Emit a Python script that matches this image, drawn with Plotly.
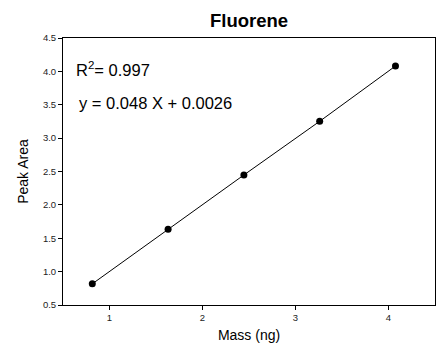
import plotly.graph_objects as go

# Calibration data for fluorene
mass_ng = [0.815, 1.63, 2.445, 3.26, 4.075]
peak_area = [0.817, 1.635, 2.448, 3.252, 4.08]

x_ticks = [1, 2, 3, 4]
y_ticks = [0.5, 1.0, 1.5, 2.0, 2.5, 3.0, 3.5, 4.0, 4.5]

fig = go.Figure()
fig.add_trace(go.Scatter(
    x=mass_ng, y=peak_area, mode="lines+markers",
    line=dict(color="black", width=1),
    marker=dict(color="black", size=7),
    showlegend=False,
))

axis_common = dict(
    showgrid=False, zeroline=False, showline=True, linecolor="black",
    linewidth=1, mirror=True, ticks="outside", ticklen=4, tickcolor="black",
    tickfont=dict(family="Arial", size=9.5, color="#222222"),
)

fig.update_layout(
    width=445, height=349,
    margin=dict(l=63, r=9, t=38, b=42),
    paper_bgcolor="white", plot_bgcolor="white",
    title=dict(text="<b>Fluorene</b>", x=0.5, xref="paper", xanchor="center",
               y=0.94, yanchor="middle",
               font=dict(family="Arial", size=18.5, color="black")),
    xaxis=dict(range=[0.5, 4.5], tickvals=x_ticks, ticktext=[str(v) for v in x_ticks],
               title=dict(text="Mass (ng)", font=dict(family="Arial", size=14, color="black"), standoff=7),
               **axis_common),
    yaxis=dict(range=[0.5, 4.5], tickvals=y_ticks, ticktext=[f"{v:.1f}" for v in y_ticks],
               title=dict(text="Peak Area", font=dict(family="Arial", size=14, color="black"), standoff=10),
               **axis_common),
    annotations=[
        dict(text="R<sup>2</sup>= 0.997", x=0.03, y=4.04, xref="paper", yref="y",
             xanchor="left", yanchor="middle", showarrow=False,
             font=dict(family="Arial", size=16.5, color="black")),
        dict(text="y = 0.048 X + 0.0026", x=0.037, y=3.53, xref="paper", yref="y",
             xanchor="left", yanchor="middle", showarrow=False,
             font=dict(family="Arial", size=16.5, color="black")),
    ],
)

fig.write_html("out.html")
